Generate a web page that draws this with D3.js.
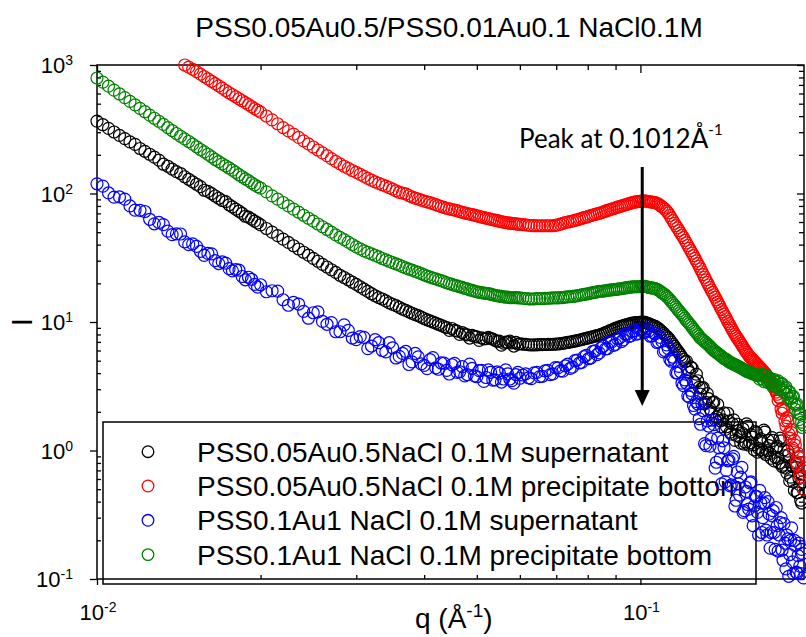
<!DOCTYPE html>
<html><head><meta charset="utf-8">
<script src="https://cdn.jsdelivr.net/npm/d3@7"></script>
<style>
body{margin:0;background:#fff}
svg text{font-family:"Liberation Sans",Arial,sans-serif;fill:#000}
</style>
</head><body>
<svg id="c" width="806" height="637"></svg>
<script>
// ---- data ----
const q = [
0.01,0.01025,0.0105,0.01075,0.011,0.01125,0.0115,0.01175,0.012,0.01225,0.0125,0.01275,0.013,0.01325,0.0135,0.01375,0.014,0.01425,0.0145,0.01475,
0.015,0.01525,0.0155,0.01575,0.016,0.01625,0.0165,0.01675,0.017,0.01725,0.0175,0.01775,0.018,0.01825,0.0185,0.01875,0.019,0.01925,0.0195,0.01975,0.02,
0.0205,0.021,0.0215,0.022,0.0225,0.023,0.0235,0.024,0.0245,0.025,0.0255,0.026,0.0265,0.027,0.0275,0.028,0.0285,0.029,0.0295,0.030,
0.0305,0.031,0.0315,0.032,0.0325,0.033,0.0335,0.034,0.0345,0.035,0.0355,0.036,0.0365,0.037,0.0375,0.038,0.0385,0.039,0.0395,0.040,
0.0405,0.041,0.0415,0.042,0.0425,0.043,0.0435,0.044,0.0445,0.045,0.0455,0.046,0.0465,0.047,0.0475,0.048,0.0485,0.049,0.0495,0.050,
0.0505,0.051,0.0515,0.052,0.0525,0.053,0.0535,0.054,0.0545,0.055,0.0555,0.056,0.0565,0.057,0.0575,0.058,0.0585,0.059,0.0595,0.060,
0.06075,0.0615,0.06225,0.063,0.06375,0.0645,0.06525,0.066,0.06675,0.0675,0.06825,0.069,0.06975,0.0705,0.07125,0.072,0.07275,0.0735,0.07425,0.075,
0.07575,0.0765,0.07725,0.078,0.07875,0.0795,0.08025,0.081,0.08175,0.0825,0.08325,0.084,0.08475,0.0855,0.08625,0.087,0.08775,0.0885,0.08925,0.09,
0.09075,0.0915,0.09225,0.093,0.09375,0.0945,0.09525,0.096,0.09675,0.0975,0.09825,0.099,0.09975,0.1005,0.10125,0.102,0.10275,0.1035,0.10425,0.105,
0.10575,0.1065,0.10725,0.108,0.10875,0.1095,0.11025,0.111,0.11175,0.1125,0.11325,0.114,0.11475,0.1155,0.11625,0.117,0.11775,0.1185,0.11925,0.12,
0.12075,0.1215,0.12225,0.123,0.12375,0.1245,0.12525,0.126,0.12675,0.1275,0.12825,0.129,0.12975,0.1305,0.13125,0.132,0.13275,0.1335,0.13425,0.135,
0.13575,0.1365,0.13725,0.138,0.13875,0.1395,0.14025,0.141,0.14175,0.1425,0.14325,0.144,0.14475,0.1455,0.14625,0.147,0.14775,0.1485,0.14925,0.15,
0.15075,0.1515,0.15225,0.153,0.15375,0.1545,0.15525,0.156,0.15675,0.1575,0.15825,0.159,0.15975,0.1605,0.16125,0.162,0.16275,0.1635,0.16425,0.165,
0.16575,0.1665,0.16725,0.168,0.16875,0.1695,0.17025,0.171,0.17175,0.1725,0.17325,0.174,0.17475,0.1755,0.17625,0.177,0.17775,0.1785,0.17925,0.18,
0.18075,0.1815,0.18225,0.183,0.18375,0.1845,0.18525,0.186,0.18675,0.1875,0.18825,0.189,0.18975,0.1905,0.19125,0.192,0.19275,0.1935,0.19425,0.195,
0.19575,0.1965,0.19725,0.198,0.19875,0.1995];

// PSS0.05Au0.5NaCl 0.1M supernatant
const iBlack = [
366,343,321,301,283,267,252,241,224,213,202,192,182,169,163,155,148,143,135,129,
123,118,113,106,104,99.7,95.6,91.8,88.2,86.5,81.7,78.6,75.6,72.8,70.1,66.5,65.4,63.2,61.0,59.0,57.0,
53.4,50.0,47.0,44.1,41.6,39.2,37.0,34.9,33.1,31.3,29.7,28.1,26.8,25.5,24.3,23.1,22.2,21.3,20.4,19.6,
18.8,18.0,17.3,16.6,16.0,15.5,15.1,14.6,14.1,13.7,13.4,13.0,12.6,12.3,12.0,11.7,11.4,11.2,10.9,10.65,
10.4,10.2,10.0,9.8,9.6,9.41,9.22,9.04,8.6,8.9,8.6,8.50,8.0,8.28,8.05,7.95,7.5,7.86,7.72,7.66,
7.2,7.53,7.40,7.42,7.6,7.45,7.35,7.21,7.08,7.10,6.6,6.85,6.98,6.93,7.1,6.88,6.5,6.95,6.72,6.77,
6.73,6.69,6.65,6.62,6.63,6.64,6.66,6.67,6.68,6.69,6.70,6.71,6.72,6.74,6.78,6.82,6.87,6.93,6.99,7.05,
7.11,7.17,7.24,7.31,7.38,7.46,7.53,7.61,7.69,7.77,7.84,7.91,8.02,8.13,8.26,8.40,8.53,8.66,8.79,8.93,
9.05,9.17,9.26,9.36,9.46,9.56,9.65,9.75,9.80,9.86,9.88,9.91,9.93,9.96,9.96,9.95,9.82,9.70,9.57,9.45,
9.34,9.23,9.05,8.88,8.64,8.40,8.17,7.95,7.74,7.53,7.25,6.97,6.71,6.45,6.21,5.98,5.76,5.54,5.33,5.13,
4.90,4.96,4.27,4.05,4.47,4.37,3.43,3.37,3.93,3.49,3.10,2.75,3.05,3.08,2.31,2.37,2.77,2.53,2.12,2.00,
2.37,2.39,1.74,1.82,2.28,1.93,1.70,1.53,1.73,1.96,1.46,1.53,1.95,1.69,1.39,1.34,1.61,1.73,1.20,1.31,
1.60,1.42,1.28,1.14,1.37,1.47,1.12,1.16,1.61,1.54,1.10,1.15,1.33,1.27,1.11,1.01,1.40,1.37,0.97,1.04,
1.20,1.23,1.01,0.97,1.44,1.39,0.93,1.00,1.20,1.09,0.95,0.87,1.26,1.20,0.83,0.89,1.05,1.08,0.87,0.80,
1.25,1.19,0.75,0.77,1.01,0.91,0.73,0.67,0.99,0.93,0.58,0.62,0.77,0.75,0.57,0.49,0.80,0.74,0.47,0.47,
0.61,0.54,0.41,0.39,0.57,0.50];

// PSS0.05Au0.5NaCl 0.1M precipitate bottom
const iRed = [
null,null,null,null,null,null,null,null,null,null,null,null,null,null,null,null,null,null,1000,962,
926,887,850,814,779,747,717,688,660,633,608,587,566,546,527,509,491,474,458,444,430,
401,374,349,326,307,290,273,257,243,230,218,207,197,187,178,170,163,157,151,146,
141,136,131,127,123,120,117,114,111,108,105,102,100.6,99.2,96.5,93.9,92.2,90.6,88.9,87.3,
86.0,84.8,83.4,82.0,80.6,79.2,78.0,76.8,75.9,75.1,74.3,73.5,72.4,71.4,70.6,69.9,69.2,68.6,67.8,67.0,
66.3,65.6,64.9,64.3,63.7,63.1,62.5,62.0,61.4,60.9,60.3,59.8,59.4,59.0,58.8,58.6,58.3,58.0,57.8,57.6,
57.3,57.0,56.6,56.2,56.15,56.1,56.1,56.1,56.1,56.1,56.1,56.1,56.5,57.0,57.8,58.6,59.3,60.0,60.5,61.1,
61.8,62.5,63.2,64.0,64.8,65.6,66.4,67.3,68.0,68.8,69.5,70.2,71.0,71.9,72.8,73.8,74.7,75.6,76.4,77.3,
78.2,79.1,79.9,80.8,81.6,82.4,83.3,84.2,85.0,85.8,86.2,86.6,86.9,87.2,87.4,87.5,87.0,86.6,86.2,85.8,
85.3,84.8,83.7,82.6,80.8,79.0,77.2,75.4,73.0,70.6,67.4,64.3,61.4,58.6,56.3,54.0,51.5,49.2,47.2,45.3,
43.2,41.3,39.4,37.6,35.9,34.3,32.8,31.3,29.9,28.5,27.2,25.9,24.6,23.4,22.3,21.3,20.3,19.4,18.5,17.7,
17.0,16.3,15.6,14.9,14.3,13.7,13.1,12.5,12.0,11.5,11.0,10.6,10.1,9.7,9.35,9.0,8.65,8.3,8.02,7.75,
7.51,7.28,7.05,6.82,6.60,6.38,6.18,5.98,5.81,5.65,5.49,5.34,5.25,5.16,5.05,4.94,4.84,4.75,4.64,4.54,
4.45,4.37,4.28,4.19,4.10,4.02,3.92,3.82,3.70,3.59,3.48,3.38,3.27,3.16,3.06,2.97,2.85,2.74,2.45,2.6,
2.55,2.1,1.95,2.15,2.05,1.7,1.55,1.8,1.7,1.35,1.25,1.45,1.38,1.05,1.0,1.2,1.1,0.82,0.78,0.95,
0.88,0.65,0.62,0.75,0.7,0.5];

// PSS0.1Au1 NaCl 0.1M supernatant
const iBlue = [
119,114,101,93.6,94,90.4,80,74.3,74,72.4,63,58.1,59.5,57.3,51,47.9,48.5,48.4,42,40.0,
40.5,38.8,35.5,33.0,34.2,33.9,30,28.5,29.4,28.7,26,25.0,25.6,25.3,22.6,21.3,22.3,21.5,19.6,18.7,19.5,
17.2,17.5,17.4,14.9,13.5,14.2,13.8,12.1,10.7,11.8,12.0,10.1,9.6,9.9,8.4,8.4,9.5,8.6,7.5,7.3,
7.7,7.6,6.2,6.5,7.3,6.9,6.0,5.85,6.9,6.3,5.25,5.4,5.7,5.9,4.67,4.9,5.7,5.35,4.72,4.6,
4.34,5.1,5.28,4.4,4.29,4.8,4.79,4.2,3.94,4.65,4.77,4.05,4.10,4.5,3.81,3.9,4.70,4.35,3.81,3.75,
4.18,4.2,3.45,3.7,4.24,4.05,3.53,3.55,4.09,4.0,3.41,3.6,4.24,3.95,3.60,3.5,3.34,3.9,4.06,3.65,
3.87,3.95,3.68,3.62,4.02,4.05,3.76,3.78,4.16,4.2,3.89,3.95,4.42,4.4,4.16,4.15,4.56,4.7,4.36,4.45,
5.0,5.05,4.80,4.85,5.38,5.5,5.18,5.25,5.90,5.95,5.58,5.75,6.30,6.5,6.17,6.2,7.01,7.0,6.58,6.7,
7.40,7.5,7.03,7.25,8.06,8.05,7.72,7.8,8.45,8.55,8.03,8.15,8.82,8.8,8.30,8.3,8.86,8.5,7.75,7.8,
8.20,8.1,6.93,7.0,7.60,7.1,5.86,6.0,6.64,6.2,5.12,4.95,5.32,5.0,4.03,4.0,4.51,4.1,3.34,3.2,
3.54,3.35,2.66,2.6,2.94,2.75,2.24,2.1,2.40,2.3,1.77,1.60,2.33,2.04,1.13,1.09,1.70,1.55,1.08,1.23,
1.72,1.59,0.73,0.81,1.25,1.05,0.86,0.55,1.19,1.05,0.57,0.70,0.83,0.84,0.53,0.54,0.86,0.90,0.37,0.41,
0.68,0.55,0.45,0.62,0.74,0.33,0.34,0.52,0.48,0.38,0.35,0.56,0.57,0.31,0.26,0.37,0.44,0.44,0.33,0.22,
0.49,0.39,0.23,0.30,0.39,0.43,0.24,0.22,0.40,0.32,0.174,0.23,0.31,0.34,0.23,0.17,0.36,0.26,0.165,0.22,
0.275,0.30,0.168,0.14,0.27,0.19,0.12,0.22,0.205,0.105,0.155,0.20,0.25,0.136,0.11,0.20,0.182,0.113,0.111,0.152,
0.19,0.126,0.11,0.17,0.158,0.102];

// PSS0.1Au1 NaCl 0.1M precipitate bottom
const iGreen = [
792,736,684,638,595,557,521,490,460,433,407,385,365,345,326,309,293,279,266,254,
242,231,220,211,202,193,184,177,170,164,158,152,146,140,135,130,126,121,117,113,110,
103,95.9,90.3,85.1,80.2,75.5,71.5,67.7,64.2,60.9,57.9,55.1,52.5,50.0,47.7,45.6,43.7,41.8,40.1,38.4,
37.1,35.8,34.8,33.9,33.0,32.1,31.2,30.4,29.7,29.0,28.3,27.7,27.0,26.4,25.8,25.3,24.8,24.3,23.8,23.3,
22.8,22.4,22.0,21.7,21.3,21.0,20.6,20.2,19.9,19.6,19.3,19.1,18.8,18.6,18.3,18.1,17.8,17.6,17.4,17.2,
17.0,16.9,16.8,16.7,16.6,16.5,16.3,16.1,16.0,15.9,15.8,15.7,15.6,15.6,15.5,15.5,15.5,15.5,15.4,15.4,
15.3,15.2,15.15,15.1,15.15,15.2,15.2,15.2,15.25,15.3,15.35,15.4,15.4,15.4,15.45,15.5,15.6,15.7,15.75,15.8,
15.9,16.0,16.15,16.3,16.4,16.5,16.65,16.8,16.9,17.0,17.15,17.3,17.35,17.4,17.5,17.6,17.7,17.8,17.85,17.9,
18.0,18.1,18.2,18.3,18.4,18.5,18.6,18.7,18.75,18.8,18.8,18.8,18.85,18.9,18.9,18.9,18.75,18.6,18.5,18.4,
18.3,18.2,17.95,17.7,17.3,16.9,16.6,16.3,15.85,15.4,14.9,14.4,13.95,13.5,13.05,12.6,12.2,11.8,11.45,11.1,
10.7,10.3,10.0,9.7,9.4,9.1,8.8,8.5,8.25,8.0,7.75,7.5,7.35,7.2,7.05,6.9,6.75,6.6,6.45,6.3,
6.15,6.0,5.9,5.8,5.7,5.6,5.5,5.4,5.3,5.2,5.15,5.1,5.0,4.9,4.85,4.8,4.75,4.7,4.65,4.6,
4.55,4.5,4.45,4.4,4.35,4.3,4.25,4.2,4.15,4.1,4.07,4.05,4.01,3.98,3.95,3.92,3.89,3.86,3.83,3.81,
3.59,3.9,3.91,3.6,3.44,3.75,3.82,3.5,3.37,3.62,3.66,3.38,3.19,3.52,3.57,3.25,3.11,3.4,3.48,3.15,
2.97,3.3,3.31,2.98,2.83,3.05,3.12,2.75,2.56,2.85,2.86,2.55,2.39,2.62,2.64,2.3,2.09,2.25,2.30,1.95,
1.74,1.92,1.92,1.66,1.51,1.58];

const seriesNames = [
  "PSS0.05Au0.5NaCl 0.1M supernatant",
  "PSS0.05Au0.5NaCl 0.1M precipitate bottom",
  "PSS0.1Au1 NaCl 0.1M supernatant",
  "PSS0.1Au1 NaCl 0.1M precipitate bottom"];
const seriesValues = [iBlack, iRed, iBlue, iGreen];
const seriesColors = ["#000000", "#ff0000", "#0000ff", "#008000"];

const yTickValues = [0.1, 1, 10, 100, 1000];
const yTickExps = ["-1", "0", "1", "2", "3"];
const xTickValues = [0.01, 0.1];
const xTickExps = ["-2", "-1"];
const chartTitle = "PSS0.05Au0.5/PSS0.01Au0.1 NaCl0.1M";
const peakQ = 0.1012;
const peakText = "Peak at 0.1012Å";

// ---- drawing ----
const svg = d3.select("#c");
const X0 = 97, X1 = 804, Y0 = 579, Y1 = 65;
const x = d3.scaleLog().domain([0.01, 0.2]).range([X0, X1]);
const y = d3.scaleLog().domain([0.1, 1000]).range([Y0, Y1]);

const yMinor = [];
yTickValues.slice(0, -1).forEach(d => { for (let k = 2; k <= 9; k++) yMinor.push(d * k); });
const xMinor = [];
for (let k = 2; k <= 9; k++) xMinor.push(0.01 * k);

function styleAxis(g) {
  g.select(".domain").remove();
  g.selectAll(".tick line").attr("stroke", "#000").attr("stroke-width", 1.3);
}
svg.append("g").attr("transform", `translate(${X0},0)`)
  .call(d3.axisLeft(y).tickValues(yTickValues).tickSize(7).tickFormat("")).call(styleAxis);
svg.append("g").attr("transform", `translate(${X0},0)`)
  .call(d3.axisLeft(y).tickValues(yMinor).tickSize(-4).tickFormat("")).call(styleAxis);
svg.append("g").attr("transform", `translate(${X1},0)`)
  .call(d3.axisRight(y).tickValues(yTickValues).tickSize(-7).tickFormat("")).call(styleAxis);
svg.append("g").attr("transform", `translate(${X1},0)`)
  .call(d3.axisRight(y).tickValues(yMinor).tickSize(-5).tickFormat("")).call(styleAxis);
svg.append("g").attr("transform", `translate(0,${Y0})`)
  .call(d3.axisBottom(x).tickValues(xTickValues).tickSize(6).tickFormat("")).call(styleAxis);
svg.append("g").attr("transform", `translate(0,${Y0})`)
  .call(d3.axisBottom(x).tickValues(xMinor).tickSize(-4).tickFormat("")).call(styleAxis);
svg.append("g").attr("transform", `translate(0,${Y1})`)
  .call(d3.axisTop(x).tickValues(xTickValues).tickSize(-8).tickFormat("")).call(styleAxis);
svg.append("g").attr("transform", `translate(0,${Y1})`)
  .call(d3.axisTop(x).tickValues(xMinor).tickSize(-5).tickFormat("")).call(styleAxis);

svg.append("rect").attr("x", X0).attr("y", Y1).attr("width", X1 - X0).attr("height", Y0 - Y1)
  .attr("fill", "none").attr("stroke", "#000").attr("stroke-width", 1.5);

yTickValues.forEach((v, i) => {
  const t = svg.append("text").attr("x", 73).attr("y", y(v) + 8).attr("text-anchor", "end")
    .attr("font-size", 22);
  t.append("tspan").text("10");
  t.append("tspan").attr("dy", -8).attr("font-size", 14).text(yTickExps[i]);
});
xTickValues.forEach((v, i) => {
  const t = svg.append("text").attr("x", x(v) + 1).attr("y", 620).attr("text-anchor", "middle")
    .attr("font-size", 22);
  t.append("tspan").text("10");
  t.append("tspan").attr("dy", -8).attr("font-size", 14).text(xTickExps[i]);
});

svg.append("text").attr("x", 449).attr("y", 37).attr("text-anchor", "middle")
  .attr("font-size", 28).text(chartTitle);

const xt = svg.append("text").attr("x", 415).attr("y", 628).attr("font-size", 28);
xt.append("tspan").text("q (Å");
xt.append("tspan").attr("dy", -11).attr("font-size", 19).text("-1");
xt.append("tspan").attr("dy", 11).text(")");
svg.append("text").attr("transform", "translate(32,322) rotate(-90)")
  .attr("text-anchor", "middle").attr("font-size", 30).text("I");

svg.append("rect").attr("x", 103).attr("y", 422).attr("width", 653).attr("height", 162)
  .attr("fill", "none").attr("stroke", "#000").attr("stroke-width", 1.5);
const rowY = [451.7, 486, 520.3, 554.6];
seriesNames.forEach((n, i) => {
  svg.append("circle").attr("cx", 148).attr("cy", rowY[i]).attr("r", 5.8)
    .attr("fill", "none").attr("stroke", seriesColors[i]).attr("stroke-width", 1.3);
  svg.append("text").attr("x", 197).attr("y", rowY[i] + 10).attr("font-size", 28).text(n);
});

seriesValues.forEach((vals, s) => {
  const pts = q.map((qq, i) => [qq, vals[i]]).filter(d => d[1] != null);
  svg.append("g").selectAll("circle").data(pts).join("circle")
    .attr("cx", d => x(d[0])).attr("cy", d => y(d[1])).attr("r", 6)
    .attr("fill", "none").attr("stroke", seriesColors[s]).attr("stroke-width", 1.2);
});

const ax0 = x(peakQ) - 1;
svg.append("line").attr("x1", ax0).attr("x2", ax0).attr("y1", 167).attr("y2", 392)
  .attr("stroke", "#000").attr("stroke-width", 3);
svg.append("path").attr("d", `M${ax0 - 7.5},390 L${ax0 + 7.5},390 L${ax0},406 Z`).attr("fill", "#000");
const pt = svg.append("text").attr("x", 519).attr("y", 148).attr("font-size", 26)
  .style("font-family", "Lato, 'Open Sans', sans-serif");
pt.append("tspan").text(peakText);
pt.append("tspan").attr("dy", -13).attr("font-size", 15).text("-1");
</script>
</body></html>
